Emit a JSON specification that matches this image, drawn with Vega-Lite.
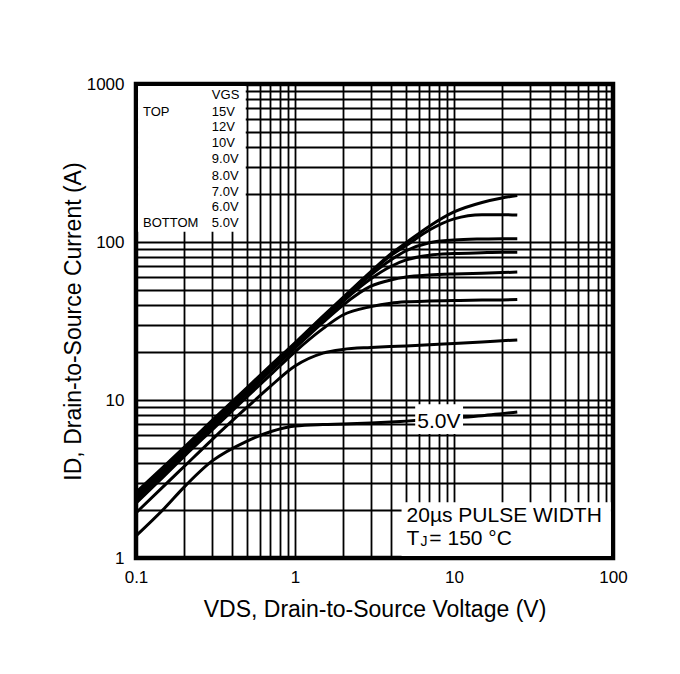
{
  "$schema": "https://vega.github.io/schema/vega-lite/v6.json",
  "width": 477,
  "height": 474,
  "autosize": {"type": "none"},
  "padding": {"left": 136, "top": 84, "right": 67, "bottom": 116},
  "background": "white",
  "config": {
    "font": "Liberation Sans",
    "view": {"stroke": "black", "strokeWidth": 4.5},
    "axis": {"labelColor": "black", "titleColor": "black", "titleFontWeight": "normal"}
  },
  "datasets": {
    "curves": [
      {"vgs": "15V", "v": 0.1, "i": 2.6}, {"vgs": "15V", "v": 0.15, "i": 3.8}, {"vgs": "15V", "v": 0.2, "i": 5.0}, {"vgs": "15V", "v": 0.3, "i": 7.4}, {"vgs": "15V", "v": 0.5, "i": 12.0}, {"vgs": "15V", "v": 0.7, "i": 16.5}, {"vgs": "15V", "v": 1, "i": 23}, {"vgs": "15V", "v": 1.5, "i": 34}, {"vgs": "15V", "v": 2, "i": 44.5}, {"vgs": "15V", "v": 3, "i": 65}, {"vgs": "15V", "v": 4, "i": 84}, {"vgs": "15V", "v": 5, "i": 99}, {"vgs": "15V", "v": 7, "i": 126}, {"vgs": "15V", "v": 10, "i": 155}, {"vgs": "15V", "v": 15, "i": 178}, {"vgs": "15V", "v": 20, "i": 190}, {"vgs": "15V", "v": 25, "i": 197},
      {"vgs": "12V", "v": 0.1, "i": 2.52}, {"vgs": "12V", "v": 0.15, "i": 3.72}, {"vgs": "12V", "v": 0.2, "i": 4.9}, {"vgs": "12V", "v": 0.3, "i": 7.25}, {"vgs": "12V", "v": 0.5, "i": 11.8}, {"vgs": "12V", "v": 0.7, "i": 16.2}, {"vgs": "12V", "v": 1, "i": 22.7}, {"vgs": "12V", "v": 1.5, "i": 33.5}, {"vgs": "12V", "v": 2, "i": 44}, {"vgs": "12V", "v": 3, "i": 64}, {"vgs": "12V", "v": 4, "i": 82}, {"vgs": "12V", "v": 5, "i": 95}, {"vgs": "12V", "v": 7, "i": 119}, {"vgs": "12V", "v": 10, "i": 140}, {"vgs": "12V", "v": 15, "i": 149}, {"vgs": "12V", "v": 20, "i": 149}, {"vgs": "12V", "v": 25, "i": 148},
      {"vgs": "10V", "v": 0.1, "i": 2.45}, {"vgs": "10V", "v": 0.15, "i": 3.63}, {"vgs": "10V", "v": 0.2, "i": 4.8}, {"vgs": "10V", "v": 0.3, "i": 7.1}, {"vgs": "10V", "v": 0.5, "i": 11.6}, {"vgs": "10V", "v": 0.7, "i": 16}, {"vgs": "10V", "v": 1, "i": 22.4}, {"vgs": "10V", "v": 1.5, "i": 33}, {"vgs": "10V", "v": 2, "i": 43.3}, {"vgs": "10V", "v": 3, "i": 62}, {"vgs": "10V", "v": 4, "i": 77}, {"vgs": "10V", "v": 5, "i": 88}, {"vgs": "10V", "v": 7, "i": 99}, {"vgs": "10V", "v": 10, "i": 103}, {"vgs": "10V", "v": 15, "i": 104.5}, {"vgs": "10V", "v": 20, "i": 105}, {"vgs": "10V", "v": 25, "i": 105},
      {"vgs": "9.0V", "v": 0.1, "i": 2.38}, {"vgs": "9.0V", "v": 0.15, "i": 3.54}, {"vgs": "9.0V", "v": 0.2, "i": 4.68}, {"vgs": "9.0V", "v": 0.3, "i": 6.92}, {"vgs": "9.0V", "v": 0.5, "i": 11.35}, {"vgs": "9.0V", "v": 0.7, "i": 15.6}, {"vgs": "9.0V", "v": 1, "i": 21.9}, {"vgs": "9.0V", "v": 1.5, "i": 32.2}, {"vgs": "9.0V", "v": 2, "i": 42}, {"vgs": "9.0V", "v": 3, "i": 58.5}, {"vgs": "9.0V", "v": 4, "i": 70}, {"vgs": "9.0V", "v": 5, "i": 77}, {"vgs": "9.0V", "v": 7, "i": 82.5}, {"vgs": "9.0V", "v": 10, "i": 84.5}, {"vgs": "9.0V", "v": 15, "i": 85.5}, {"vgs": "9.0V", "v": 20, "i": 86}, {"vgs": "9.0V", "v": 25, "i": 86},
      {"vgs": "8.0V", "v": 0.1, "i": 2.32}, {"vgs": "8.0V", "v": 0.15, "i": 3.45}, {"vgs": "8.0V", "v": 0.2, "i": 4.56}, {"vgs": "8.0V", "v": 0.3, "i": 6.75}, {"vgs": "8.0V", "v": 0.5, "i": 11.0}, {"vgs": "8.0V", "v": 0.7, "i": 15.2}, {"vgs": "8.0V", "v": 1, "i": 21.3}, {"vgs": "8.0V", "v": 1.5, "i": 31}, {"vgs": "8.0V", "v": 2, "i": 39.8}, {"vgs": "8.0V", "v": 3, "i": 52.5}, {"vgs": "8.0V", "v": 4, "i": 57.5}, {"vgs": "8.0V", "v": 5, "i": 60}, {"vgs": "8.0V", "v": 7, "i": 61.8}, {"vgs": "8.0V", "v": 10, "i": 62.8}, {"vgs": "8.0V", "v": 15, "i": 63.5}, {"vgs": "8.0V", "v": 20, "i": 64}, {"vgs": "8.0V", "v": 25, "i": 64.5},
      {"vgs": "7.0V", "v": 0.1, "i": 2.22}, {"vgs": "7.0V", "v": 0.15, "i": 3.3}, {"vgs": "7.0V", "v": 0.2, "i": 4.38}, {"vgs": "7.0V", "v": 0.3, "i": 6.45}, {"vgs": "7.0V", "v": 0.5, "i": 10.5}, {"vgs": "7.0V", "v": 0.7, "i": 14.4}, {"vgs": "7.0V", "v": 1, "i": 20.2}, {"vgs": "7.0V", "v": 1.5, "i": 28.3}, {"vgs": "7.0V", "v": 2, "i": 34.5}, {"vgs": "7.0V", "v": 3, "i": 39}, {"vgs": "7.0V", "v": 4, "i": 41}, {"vgs": "7.0V", "v": 5, "i": 41.8}, {"vgs": "7.0V", "v": 7, "i": 42.3}, {"vgs": "7.0V", "v": 10, "i": 42.6}, {"vgs": "7.0V", "v": 15, "i": 42.9}, {"vgs": "7.0V", "v": 20, "i": 43}, {"vgs": "7.0V", "v": 25, "i": 43.2},
      {"vgs": "6.0V", "v": 0.1, "i": 1.93}, {"vgs": "6.0V", "v": 0.15, "i": 2.86}, {"vgs": "6.0V", "v": 0.2, "i": 3.78}, {"vgs": "6.0V", "v": 0.3, "i": 5.6}, {"vgs": "6.0V", "v": 0.5, "i": 9.0}, {"vgs": "6.0V", "v": 0.7, "i": 12.2}, {"vgs": "6.0V", "v": 1, "i": 16.4}, {"vgs": "6.0V", "v": 1.5, "i": 19.8}, {"vgs": "6.0V", "v": 2, "i": 20.9}, {"vgs": "6.0V", "v": 3, "i": 21.5}, {"vgs": "6.0V", "v": 4, "i": 21.8}, {"vgs": "6.0V", "v": 5, "i": 22}, {"vgs": "6.0V", "v": 7, "i": 22.4}, {"vgs": "6.0V", "v": 10, "i": 22.8}, {"vgs": "6.0V", "v": 15, "i": 23.3}, {"vgs": "6.0V", "v": 20, "i": 23.7}, {"vgs": "6.0V", "v": 25, "i": 24},
      {"vgs": "5.0V", "v": 0.1, "i": 1.38}, {"vgs": "5.0V", "v": 0.15, "i": 2.05}, {"vgs": "5.0V", "v": 0.2, "i": 2.8}, {"vgs": "5.0V", "v": 0.3, "i": 4.1}, {"vgs": "5.0V", "v": 0.5, "i": 5.5}, {"vgs": "5.0V", "v": 0.7, "i": 6.3}, {"vgs": "5.0V", "v": 1, "i": 6.85}, {"vgs": "5.0V", "v": 1.5, "i": 7.0}, {"vgs": "5.0V", "v": 2, "i": 7.05}, {"vgs": "5.0V", "v": 3, "i": 7.15}, {"vgs": "5.0V", "v": 4, "i": 7.25}, {"vgs": "5.0V", "v": 5, "i": 7.35}, {"vgs": "5.0V", "v": 7, "i": 7.5}, {"vgs": "5.0V", "v": 10, "i": 7.7}, {"vgs": "5.0V", "v": 15, "i": 7.95}, {"vgs": "5.0V", "v": 20, "i": 8.2}, {"vgs": "5.0V", "v": 25, "i": 8.4}
    ],
    "boxes": [
      {"name": "legend", "v": 0.103, "v2": 0.49, "i": 116, "i2": 970},
      {"name": "label5", "v": 5.7, "v2": 11.4, "i": 6.1, "i2": 9.4},
      {"name": "pulse", "v": 4.68, "v2": 97, "i": 1.03, "i2": 2.25}
    ],
    "legendText": [
      {"label": "VGS", "v": 0.3, "i": 851},
      {"label": "TOP", "v": 0.1107, "i": 668},
      {"label": "15V", "v": 0.3, "i": 668},
      {"label": "12V", "v": 0.3, "i": 537},
      {"label": "10V", "v": 0.3, "i": 425},
      {"label": "9.0V", "v": 0.3, "i": 334},
      {"label": "8.0V", "v": 0.3, "i": 262},
      {"label": "7.0V", "v": 0.3, "i": 208},
      {"label": "6.0V", "v": 0.3, "i": 167},
      {"label": "BOTTOM", "v": 0.1107, "i": 131.5},
      {"label": "5.0V", "v": 0.3, "i": 131.5}
    ],
    "curveLabel": [{"label": "5.0V", "v": 8.03, "i": 7.22}],
    "noteText": [
      {"label": "20µs PULSE WIDTH", "v": 5.03, "i": 1.84},
      {"label": "T", "v": 5.03, "i": 1.325},
      {"label": "= 150 °C", "v": 7.0, "i": 1.325}
    ],
    "subText": [{"label": "J", "v": 6.15, "i": 1.27}]
  },
  "encoding": {
    "x": {
      "field": "v", "type": "quantitative",
      "scale": {"type": "log", "domain": [0.1, 100], "nice": false},
      "axis": {
        "values": [0.1, 0.2, 0.3, 0.4, 0.5, 0.6, 0.7, 0.8, 0.9, 1, 2, 3, 4, 5, 6, 7, 8, 9, 10, 20, 30, 40, 50, 60, 70, 80, 90, 100],
        "format": "~g",
        "labelExpr": "indexof(['0.1','1','10','100'], datum.label) >= 0 ? datum.label : ''",
        "grid": true, "gridColor": "black", "gridOpacity": 1, "gridWidth": 1.8,
        "ticks": false, "domain": false,
        "labelFontSize": 17, "labelPadding": 11, "labelFlush": false, "labelOverlap": false,
        "title": "VDS, Drain-to-Source Voltage (V)", "titleFontSize": 23, "titlePadding": 13
      }
    },
    "y": {
      "field": "i", "type": "quantitative",
      "scale": {"type": "log", "domain": [1, 1000], "nice": false},
      "axis": {
        "values": [1, 2, 3, 4, 5, 6, 7, 8, 9, 10, 20, 30, 40, 50, 60, 70, 80, 90, 100, 200, 300, 400, 500, 600, 700, 800, 900, 1000],
        "format": "~g",
        "labelExpr": "indexof(['1','10','100','1000'], datum.label) >= 0 ? datum.label : ''",
        "grid": true, "gridColor": "black", "gridOpacity": 1, "gridWidth": 1.8,
        "ticks": false, "domain": false,
        "labelFontSize": 17, "labelPadding": 12, "labelFlush": false, "labelOverlap": false,
        "title": "ID, Drain-to-Source Current (A)", "titleFontSize": 23, "titlePadding": 1
      }
    }
  },
  "layer": [
    {
      "data": {"name": "curves"},
      "mark": {"type": "line", "color": "black", "strokeWidth": 3, "interpolate": "monotone"},
      "encoding": {"detail": {"field": "vgs"}}
    },
    {
      "data": {"name": "boxes"},
      "mark": {"type": "rect", "color": "white", "opacity": 1},
      "encoding": {"x2": {"field": "v2"}, "y2": {"field": "i2"}}
    },
    {
      "data": {"name": "legendText"},
      "mark": {"type": "text", "align": "left", "baseline": "middle", "fontSize": 13, "color": "black"},
      "encoding": {"text": {"field": "label"}}
    },
    {
      "data": {"name": "curveLabel"},
      "mark": {"type": "text", "align": "center", "baseline": "middle", "fontSize": 21, "color": "black"},
      "encoding": {"text": {"field": "label"}}
    },
    {
      "data": {"name": "noteText"},
      "mark": {"type": "text", "align": "left", "baseline": "middle", "fontSize": 21, "color": "black"},
      "encoding": {"text": {"field": "label"}}
    },
    {
      "data": {"name": "subText"},
      "mark": {"type": "text", "align": "left", "baseline": "middle", "fontSize": 14, "color": "black"},
      "encoding": {"text": {"field": "label"}}
    }
  ]
}
